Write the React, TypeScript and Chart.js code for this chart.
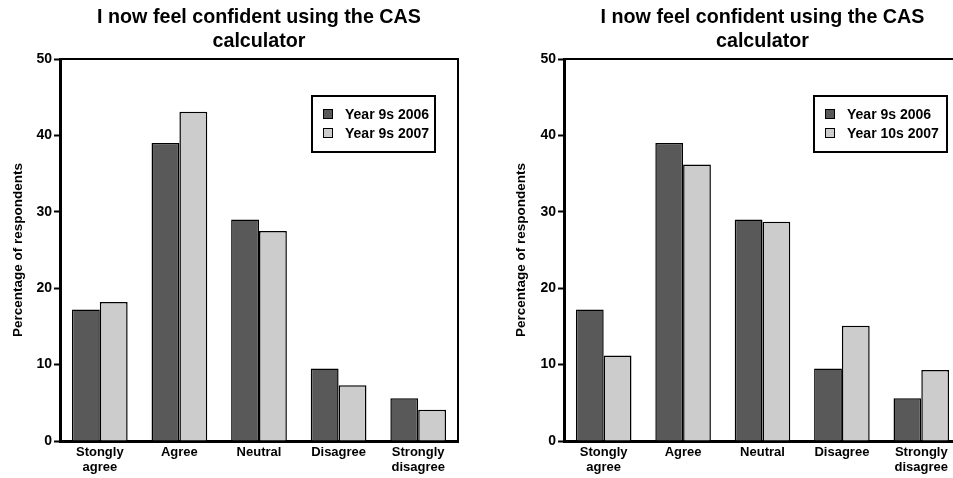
import React, { useEffect, useRef } from "react";
import { Chart, registerables } from "chart.js";

Chart.register(...registerables);

// ---------- data ----------
const categories: (string | string[])[] = [
  ["Stongly", "agree"],
  "Agree",
  "Neutral",
  "Disagree",
  ["Strongly", "disagree"],
];
const year9s2006 = [17.2, 39.0, 29.0, 9.5, 5.6];
const year9s2007 = [18.2, 43.1, 27.5, 7.3, 4.1];
const year10s2007 = [11.2, 36.2, 28.7, 15.1, 9.3];
const yTicks = [0, 10, 20, 30, 40, 50];
const titleLines = ["I now feel confident using the CAS", "calculator"];
const yAxisTitle = "Percentage of respondents";
const leftLabels = ["Year 9s 2006", "Year 9s 2007"];
const rightLabels = ["Year 9s 2006", "Year 10s 2007"];

const FONT = "'Liberation Sans', Arial, Helvetica, sans-serif";
const DARK = "#595959";
const LIGHT = "#cccccc";

const decorPlugin = {
  id: "decor",
  afterDraw(chart: any, _args: any, opts: any) {
    const { ctx, chartArea: a } = chart;
    ctx.save();
    // top & right frame
    ctx.strokeStyle = "#000";
    ctx.lineWidth = 2;
    ctx.beginPath();
    ctx.moveTo(a.left, a.top);
    ctx.lineTo(a.right, a.top);
    if (opts.rightBorder) ctx.lineTo(a.right, a.bottom);
    ctx.stroke();

    // title
    ctx.fillStyle = "#000";
    ctx.font = `bold 19.7px ${FONT}`;
    ctx.textAlign = "center";
    ctx.textBaseline = "middle";
    titleLines.forEach((t, i) => ctx.fillText(t, (a.left + a.right) / 2, 18 + i * 24));

    // y title
    ctx.save();
    ctx.translate(opts.yTitleX, (a.top + a.bottom) / 2);
    ctx.rotate(-Math.PI / 2);
    ctx.font = `bold 13.5px ${FONT}`;
    ctx.fillText(yAxisTitle, 0, 0);
    ctx.restore();

    // legend
    const L = opts.legend;
    ctx.fillStyle = "#fff";
    ctx.fillRect(L.x, L.y, L.w, L.h);
    ctx.lineWidth = 2;
    ctx.strokeStyle = "#000";
    ctx.strokeRect(L.x, L.y, L.w, L.h);
    ctx.font = `bold 14px ${FONT}`;
    ctx.textAlign = "left";
    chart.data.datasets.forEach((ds: any, i: number) => {
      const cy = L.y + 18 + i * 19;
      ctx.fillStyle = ds.backgroundColor;
      ctx.fillRect(L.x + 11, cy - 5, 10, 10);
      ctx.lineWidth = 1;
      ctx.strokeStyle = "#000";
      ctx.strokeRect(L.x + 11.5, cy - 4.5, 9, 9);
      ctx.fillStyle = "#000";
      ctx.fillText(ds.label, L.x + 33, cy + 1);
    });
    ctx.restore();
  },
};

type PanelProps = {
  pageLeft: number;
  width: number;
  axisWidth: number;
  padRight: number;
  labels: string[];
  second: number[];
  rightBorder: boolean;
  yTitleX: number;
  legend: { x: number; y: number; w: number; h: number };
};

function Panel(p: PanelProps) {
  const ref = useRef<HTMLCanvasElement | null>(null);
  useEffect(() => {
    if (!ref.current) return;
    const chart = new Chart(ref.current, {
      type: "bar",
      data: {
        labels: categories as any,
        datasets: [
          {
            label: p.labels[0],
            data: year9s2006,
            backgroundColor: DARK,
            borderColor: "#000",
            borderWidth: 1.5,
          },
          {
            label: p.labels[1],
            data: p.second,
            backgroundColor: LIGHT,
            borderColor: "#000",
            borderWidth: 1.5,
          },
        ],
      },
      options: {
        responsive: false,
        animation: false,
        devicePixelRatio: 1,
        layout: { padding: { top: 59, left: 0, right: p.padRight, bottom: 0 } },
        datasets: { bar: { categoryPercentage: 0.7, barPercentage: 1.0 } },
        plugins: {
          legend: { display: false },
          title: { display: false },
          tooltip: { enabled: false },
          decor: { rightBorder: p.rightBorder, yTitleX: p.yTitleX, legend: p.legend },
        } as any,
        scales: {
          x: {
            offset: true,
            grid: { display: false, drawTicks: false },
            border: { display: true, color: "#000", width: 3 },
            ticks: {
              color: "#000",
              font: { family: FONT, size: 13, weight: "bold", lineHeight: 1.15 },
              padding: 4,
              maxRotation: 0,
              autoSkip: false,
            },
            afterFit: (s: any) => {
              s.height = 37;
            },
          },
          y: {
            min: 0,
            max: 50,
            afterBuildTicks: (s: any) => {
              s.ticks = yTicks.map((v) => ({ value: v }));
            },
            grid: {
              drawOnChartArea: false,
              drawTicks: true,
              tickLength: 6,
              tickColor: "#000",
              tickWidth: 2,
            },
            border: { display: true, color: "#000", width: 3 },
            ticks: {
              color: "#000",
              font: { family: FONT, size: 14, weight: "bold" },
              padding: 2,
            },
            afterFit: (s: any) => {
              s.width = p.axisWidth;
            },
          },
        },
      },
      plugins: [decorPlugin],
    });
    return () => chart.destroy();
  }, []);
  return (
    <canvas
      ref={ref}
      width={p.width}
      height={478}
      style={{ position: "absolute", left: p.pageLeft, top: 0, width: p.width, height: 478 }}
    />
  );
}

export default function App() {
  return (
    <div
      style={{
        position: "fixed",
        left: 0,
        top: 0,
        width: 953,
        height: 478,
        overflow: "hidden",
        background: "#fff",
      }}
    >
      <Panel
        pageLeft={0}
        width={476}
        axisWidth={60}
        padRight={18}
        labels={leftLabels}
        second={year9s2007}
        rightBorder={true}
        yTitleX={18}
        legend={{ x: 312, y: 96, w: 123, h: 56 }}
      />
      <Panel
        pageLeft={476}
        width={490}
        axisWidth={88}
        padRight={5}
        labels={rightLabels}
        second={year10s2007}
        rightBorder={false}
        yTitleX={45}
        legend={{ x: 338, y: 96, w: 133, h: 56 }}
      />
    </div>
  );
}
